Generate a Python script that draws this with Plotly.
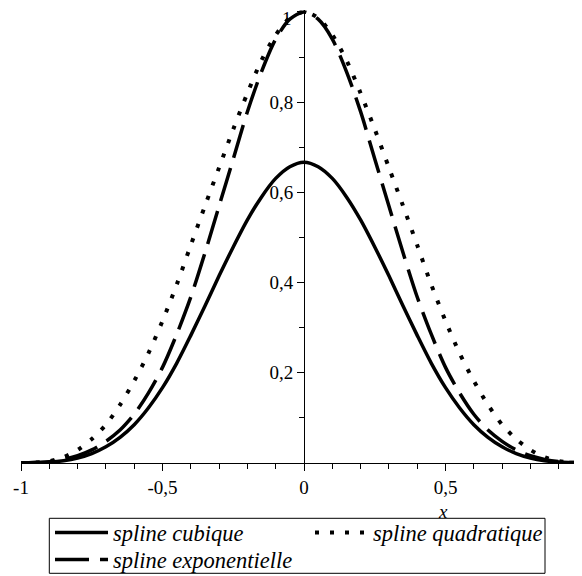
import plotly.graph_objects as go

# ---- data ----
x_vals = [-1.00, -0.95, -0.90, -0.85, -0.80, -0.75, -0.70, -0.65, -0.60, -0.55,
          -0.50, -0.45, -0.40, -0.35, -0.30, -0.25, -0.20, -0.15, -0.10, -0.05,
          0.00, 0.05, 0.10, 0.15, 0.20, 0.25, 0.30, 0.35, 0.40, 0.45,
          0.50, 0.55, 0.60, 0.65, 0.70, 0.75, 0.80, 0.85, 0.90, 0.95, 1.00]

spline_cubique = [0.000, 0.001, 0.002, 0.005, 0.011, 0.021, 0.036, 0.057, 0.085, 0.122,
                  0.167, 0.221, 0.283, 0.348, 0.415, 0.479, 0.539, 0.590, 0.631, 0.657,
                  0.667, 0.657, 0.631, 0.590, 0.539, 0.479, 0.415, 0.348, 0.283, 0.221,
                  0.167, 0.122, 0.085, 0.057, 0.036, 0.021, 0.011, 0.005, 0.002, 0.001, 0.000]

spline_quadratique = [0.000, 0.001, 0.004, 0.013, 0.029, 0.053, 0.085, 0.129, 0.182, 0.243,
                      0.315, 0.395, 0.483, 0.570, 0.655, 0.740, 0.820, 0.893, 0.949, 0.987,
                      1.000, 0.987, 0.949, 0.893, 0.820, 0.740, 0.655, 0.570, 0.483, 0.395,
                      0.315, 0.243, 0.182, 0.129, 0.085, 0.053, 0.029, 0.013, 0.004, 0.001, 0.000]

spline_exponentielle = [0.000, 0.001, 0.003, 0.008, 0.016, 0.029, 0.048, 0.073, 0.108, 0.155,
                        0.212, 0.285, 0.368, 0.466, 0.570, 0.674, 0.779, 0.868, 0.940, 0.984,
                        1.000, 0.984, 0.940, 0.868, 0.779, 0.674, 0.570, 0.466, 0.368, 0.285,
                        0.212, 0.155, 0.108, 0.073, 0.048, 0.029, 0.016, 0.008, 0.003, 0.001, 0.000]

x_tick_vals = [-1, -0.5, 0, 0.5]
x_tick_text = ["-1", "-0,5", "0", "0,5"]
y_tick_vals = [0.2, 0.4, 0.6, 0.8, 1]
y_tick_text = ["0,2", "0,4", "0,6", "0,8", ""]
y_top_label = "1"  # drawn separately so it stays inside the page top

# ---- layout geometry (page body adds an 8px offset) ----
W, H = 574, 568
ml, mr, mt, mb = 13, 0, 2, 113
pw, ph = W - ml - mr, H - mt - mb
x_bottom = H - mb  # pixel row of the plot bottom
xmin, xmax = -1.0, 0.9823
ymin, ymax = 0.0, 1.0044

FONT = "Liberation Serif, Times New Roman, serif"


def px_to_paper_x(px):
    return (px - ml) / pw


def px_to_paper_y(py):
    return (x_bottom - py) / ph


fig = go.Figure()
fig.add_trace(go.Scatter(
    x=x_vals, y=spline_cubique, mode="lines", name="<i>spline cubique</i>",
    line=dict(color="black", width=3.5, shape="spline", smoothing=0.8),
    legend="legend",
))
fig.add_trace(go.Scatter(
    x=x_vals, y=spline_quadratique, mode="lines", name="<i>spline quadratique</i>",
    line=dict(color="black", width=4, dash="4px,11px", shape="spline", smoothing=0.8),
    legend="legend",
))
fig.add_trace(go.Scatter(
    x=x_vals, y=spline_exponentielle, mode="lines", name="<i>spline exponentielle</i>",
    line=dict(color="black", width=3.5, dash="34px,11px", shape="spline", smoothing=0.8),
    legend="legend2",
))

axis_common = dict(
    showline=True, linecolor="black", linewidth=1,
    ticks="outside", ticklen=7, tickwidth=1, tickcolor="black",
    showgrid=False, zeroline=False, tickmode="array",
    ticklabeloverflow="allow",
    tickfont=dict(family=FONT, size=19, color="black"),
    minor=dict(dtick=0.1, tick0=0, ticks="outside", ticklen=5,
               tickwidth=1, tickcolor="black", showgrid=False),
)

legend_common = dict(
    orientation="h", xanchor="left", yanchor="top",
    borderwidth=0, bgcolor="rgba(0,0,0,0)",
    font=dict(family=FONT, size=22.5, color="black"),
    itemwidth=53, entrywidth=192, entrywidthmode="pixels",
    tracegroupgap=0,
)

fig.update_layout(
    width=W, height=H,
    margin=dict(l=ml, r=mr, t=mt, b=mb, autoexpand=False),
    plot_bgcolor="white", paper_bgcolor="white",
    font=dict(family=FONT, size=19, color="black"),
    xaxis=dict(range=[xmin, xmax], tickvals=x_tick_vals, ticktext=x_tick_text,
               automargin=False, **axis_common),
    yaxis=dict(range=[ymin, ymax], tickvals=y_tick_vals, ticktext=y_tick_text,
               anchor="free", position=(0 - xmin) / (xmax - xmin),
               automargin=False, **axis_common),
    legend=dict(x=px_to_paper_x(42), y=px_to_paper_y(503.3), **legend_common),
    legend2=dict(x=px_to_paper_x(42), y=px_to_paper_y(530.3), **legend_common),
    showlegend=True,
    shapes=[dict(
        type="rect", xref="paper", yref="paper",
        x0=px_to_paper_x(41.3), x1=px_to_paper_x(537),
        y0=px_to_paper_y(565.3), y1=px_to_paper_y(510.3),
        line=dict(color="black", width=1), fillcolor="rgba(0,0,0,0)",
    )],
    annotations=[
        dict(
            text="<i>x</i>", xref="paper", x=px_to_paper_x(435), yref="paper",
            y=px_to_paper_y(504), xanchor="center", yanchor="middle",
            showarrow=False, font=dict(family=FONT, size=19, color="black"),
        ),
        dict(
            text=y_top_label, xref="x", x=0, yref="y", y=y_tick_vals[-1],
            xanchor="right", yanchor="middle", xshift=-10, yshift=-7,
            showarrow=False, font=dict(family=FONT, size=19, color="black"),
        ),
    ],
)

fig.write_html("out.html")
